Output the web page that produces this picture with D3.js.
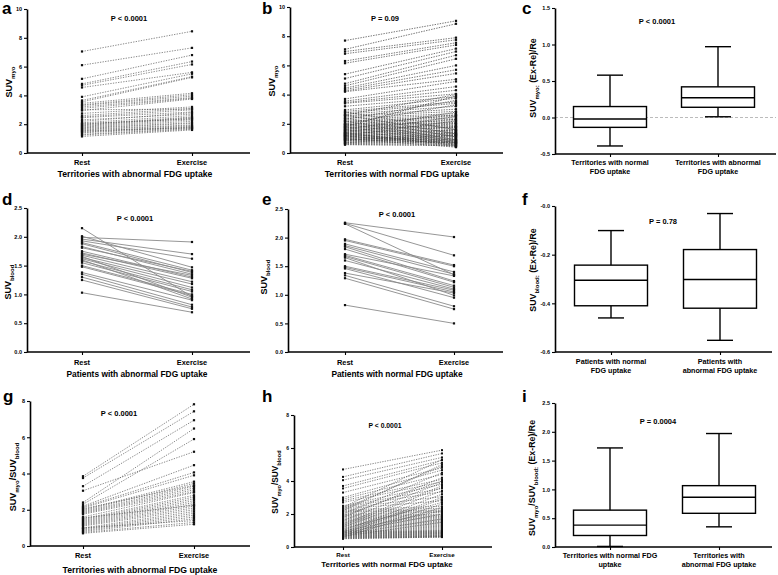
<!DOCTYPE html>
<html><head><meta charset="utf-8">
<script src="https://cdn.jsdelivr.net/npm/d3@7"></script>
<style>
body{margin:0;background:#fff}
svg{display:block}
text{font-family:Arial,"Liberation Sans",sans-serif;font-weight:bold;fill:#000}
</style>
</head><body><script>
// ---------------- DATA ----------------
const timepoints = ["Rest", "Exercise"];

// a: SUVmyo, territories with abnormal FDG uptake
const aRest = [7.05,6.1,5.15,4.8,4.7,4.55,3.9,3.65,3.55,3.45,3.35,3.3,3.2,3.1,2.95,2.75,2.6,2.5,2.45,2.2,2.1,2.0,1.95,1.9,1.85,1.8,1.75,1.7,1.65,1.6,1.5,1.45,1.4,1.3,1.25,1.15,2.3,2.05,3.0,1.55];
const aExercise = [8.45,7.3,6.8,6.35,6.15,5.6,5.5,5.3,5.25,4.15,4.05,3.95,3.85,3.8,3.75,3.2,3.1,3.0,2.85,2.8,2.6,2.5,2.45,2.4,2.3,2.2,2.1,2.05,1.95,1.9,1.85,1.8,1.75,1.7,1.65,1.6,2.7,2.35,3.05,1.75];

// b: SUVmyo, territories with normal FDG uptake
const bRest = [7.7,7.1,6.95,6.8,6.3,6.15,5.4,5.1,4.75,4.6,4.45,4.35,4.25,4.2,3.7,3.55,3.45,3.4,3.2,2.95,2.85,2.75,2.65,2.55,2.5,2.4,2.3,2.2,2.15,2.1,2.0,1.95,1.9,1.85,1.8,1.75,1.7,1.65,1.6,1.55,1.5,1.45,1.4,1.35,1.3,1.25,1.2,1.15,1.1,1.05,1.0,0.95,0.9,0.85,0.8,0.75,0.7,0.65,0.6,0.57,2.8,2.6,2.4,2.2,2.0,1.8,1.6,1.4,1.2,1.0,1.9,1.7,1.5,1.3,1.1,0.9,0.7,1.6,1.4,1.2,2.0,2.3,2.6,1.8,1.25,1.15,1.35,0.85,0.95,1.05];
const bExercise = [9.05,8.85,7.9,7.75,7.55,7.4,7.15,6.95,6.7,6.45,6.0,5.7,5.45,5.05,4.9,4.55,4.3,4.05,3.85,3.75,3.5,3.4,3.2,3.0,2.85,2.7,2.6,2.5,2.4,2.3,2.2,2.1,2.05,2.0,1.9,1.85,1.8,1.75,1.7,1.6,1.55,1.5,1.45,1.4,1.35,1.3,1.25,1.2,1.15,1.1,1.05,1.0,0.95,0.9,0.85,0.8,0.75,0.7,0.6,0.5,1.6,1.3,1.1,0.9,0.8,0.7,0.6,0.5,0.45,0.4,2.6,2.3,2.0,1.8,1.6,1.4,1.2,2.8,2.5,2.2,3.3,3.6,4.0,3.9,0.75,0.65,0.55,1.25,0.7,0.9];

// c: SUVmyo (Ex-Re)/Re box plots
const cCategories = [["Territories with normal","FDG uptake"],["Territories with abnormal","FDG uptake"]];
const cLow = [-0.39, 0.01];
const cQ1 = [-0.135, 0.14];
const cMedian = [-0.02, 0.27];
const cQ3 = [0.15, 0.42];
const cHigh = [0.58, 0.97];

// d: SUVblood, patients with abnormal FDG uptake
const dRest = [2.15,2.01,1.99,1.96,1.93,1.9,1.88,1.83,1.81,1.75,1.72,1.68,1.66,1.64,1.62,1.6,1.58,1.55,1.5,1.48,1.38,1.35,1.3,1.25,1.03,1.7];
const dExercise = [0.96,1.47,1.91,1.7,1.62,1.42,1.38,1.35,1.4,1.3,1.28,1.22,0.95,1.18,1.12,0.92,1.08,1.05,1.0,0.98,0.9,0.82,0.78,0.75,0.69,1.33];

// e: SUVblood, patients with normal FDG uptake
const eRest = [2.26,2.25,2.24,1.97,1.95,1.89,1.86,1.84,1.71,1.69,1.67,1.6,1.5,1.48,1.46,1.38,1.34,1.29,0.82,1.8,1.65];
const eExercise = [2.01,1.69,1.35,1.52,1.5,1.4,1.36,1.24,1.33,1.16,1.13,1.1,1.08,1.05,0.95,1.03,0.8,0.75,0.5,1.22,0.99];

// f: SUVblood (Ex-Re)/Re box plots
const fCategories = [["Patients with normal","FDG uptake"],["Patients with","abnormal FDG uptake"]];
const fLow = [-0.46, -0.552];
const fQ1 = [-0.41, -0.42];
const fMedian = [-0.305, -0.302];
const fQ3 = [-0.243, -0.179];
const fHigh = [-0.101, -0.031];

// g: SUVmyo/SUVblood, territories with abnormal FDG uptake
const gRest = [3.85,3.75,3.3,3.05,2.4,2.3,2.2,2.15,2.1,2.0,1.95,1.9,1.85,1.8,1.75,1.6,1.5,1.45,1.4,1.35,1.3,1.25,1.2,1.15,1.1,1.0,0.95,0.9,0.85,0.8,0.75,0.7,2.05,1.55,1.0];
const gExercise = [7.82,7.43,6.94,5.2,6.48,5.9,4.46,4.06,3.9,3.55,3.45,3.3,3.2,3.1,3.0,2.95,2.8,2.7,2.6,2.5,2.4,2.3,2.2,2.1,2.0,1.9,1.8,1.7,1.6,1.5,1.3,1.2,3.35,2.25,1.4];

// h: SUVmyo/SUVblood, territories with normal FDG uptake
const hRest = [4.7,4.25,4.05,3.7,3.55,3.3,3.0,2.9,2.8,2.7,2.5,2.45,2.4,2.35,2.3,2.25,2.2,2.15,2.1,2.0,1.95,1.9,1.85,1.8,1.75,1.7,1.65,1.6,1.55,1.5,1.45,1.4,1.35,1.3,1.25,1.2,1.15,1.1,1.05,1.0,0.97,0.95,0.92,0.9,0.88,0.85,0.82,0.8,0.78,0.75,0.72,0.7,0.68,0.65,0.62,0.6,0.58,0.55,0.52,0.5,2.4,2.2,2.0,1.8,1.6,1.4,1.2,1.0,0.9,0.8,0.7,0.6,1.3,1.1,0.95,0.85,0.75,0.65,2.3,1.9];
const hExercise = [5.87,5.67,5.43,5.26,5.1,4.8,4.66,4.4,4.1,3.95,3.8,3.55,3.35,3.05,2.8,2.47,2.35,2.25,2.2,2.15,2.1,2.0,1.95,1.9,1.85,1.8,1.75,1.7,1.65,1.6,1.55,1.5,1.45,1.4,1.35,1.3,1.25,1.2,1.15,1.1,1.05,1.0,0.98,0.95,0.92,0.9,0.88,0.85,0.82,0.8,0.78,0.75,0.72,0.7,0.68,0.65,0.63,0.62,0.61,0.6,5.3,5.0,4.5,4.2,3.9,3.7,3.4,3.2,3.0,2.9,2.6,2.4,3.6,2.7,2.2,2.0,1.7,1.5,4.9,4.0];

// i: SUVmyo/SUVblood (Ex-Re)/Re box plots
const iCategories = [["Territories with normal FDG","uptake"],["Territories with","abnormal FDG uptake"]];
const iLow = [0.01, 0.35];
const iQ1 = [0.2, 0.585];
const iMedian = [0.38, 0.865];
const iQ3 = [0.64, 1.065];
const iHigh = [1.72, 1.97];

// tick values and labels
const ticks0to10 = [0,2,4,6,8,10];
const ticks0to10Labels = ["0","2","4","6","8","10"];
const ticks0to8 = [0,2,4,6,8];
const ticks0to8Labels = ["0","2","4","6","8"];
const ticksBlood = [0,0.5,1,1.5,2,2.5];
const ticksBloodLabels = ["0.0","0.5","1.0","1.5","2.0","2.5"];
const cTicks = [-0.5,0,0.5,1,1.5];
const cTickLabels = ["-0.5","0.0","0.5","1.0","1.5"];
const fTicks = [-0.6,-0.4,-0.2,0];
const fTickLabels = ["-0.6","-0.4","-0.2","-0.0"];
const iTicks = [0,0.5,1,1.5,2,2.5];
const iTickLabels = ["0.0","0.5","1.0","1.5","2.0","2.5"];

// ---------------- DRAWING ----------------
const svg = d3.select("body").append("svg").attr("width",778).attr("height",575);

function label(txt, x, y){
  svg.append("text").attr("x",x).attr("y",y).text(txt).style("font-size","17px");
}
function ptext(txt, x, y, fs){
  svg.append("text").attr("x",x).attr("y",y).attr("text-anchor","middle").text(txt).style("font-size",(fs||7.5)+"px");
}
function yTitle(x, y, parts, fs){
  const t = svg.append("text").attr("transform",`translate(${x},${y}) rotate(-90)`)
    .attr("text-anchor","middle").style("font-size",fs+"px");
  let shift = 0;
  parts.forEach(p=>{
    const s = t.append("tspan").text(p[0]);
    const target = p[1] ? fs*0.32 : 0;
    if (target !== shift) { s.attr("dy", target - shift); shift = target; }
    s.style("font-size", (p[1] ? fs*0.68 : fs) + "px");
  });
}
function yAxis(y, x0, ticks, labels, fs){
  const ax = svg.append("g").attr("transform",`translate(${x0},0)`)
    .call(d3.axisLeft(y).tickValues(ticks).tickFormat((d,i)=>labels[i]).tickSize(3).tickSizeOuter(0).tickPadding(2));
  ax.select(".domain").attr("stroke","#000").attr("stroke-width",1.6);
  ax.selectAll(".tick line").attr("stroke-width",1.1);
  ax.selectAll(".tick text").style("font-size",fs+"px");
}
function xAxis(x, yb, x0, x1){
  const ax = svg.append("g").attr("transform",`translate(0,${yb})`)
    .call(d3.axisBottom(x).tickSize(3).tickSizeOuter(0).tickFormat(""));
  ax.select(".domain").attr("d",`M${x0},0H${x1}`).attr("stroke","#000").attr("stroke-width",1.6);
  ax.selectAll(".tick line").attr("stroke-width",1.1);
}

function paired(o){
  const g = svg.append("g");
  const y = d3.scaleLinear().domain(o.domain).range([o.yb,o.yt]);
  const x = d3.scalePoint().domain(timepoints).range([o.xr,o.xe]);
  const pairs = o.rest.map((r,i)=>[r,o.ex[i]]);
  g.selectAll("line.pair").data(pairs).join("line").attr("class","pair")
    .attr("x1",x("Rest")).attr("x2",x("Exercise"))
    .attr("y1",d=>y(d[0])).attr("y2",d=>y(d[1]))
    .attr("stroke",o.color).attr("stroke-width",o.sw)
    .attr("stroke-dasharray",o.dash||null);
  const m = o.ms || 2.2;
  g.selectAll("rect.r").data(o.rest).join("rect").attr("class","r")
    .attr("x",x("Rest")-m/2).attr("y",d=>y(d)-m/2).attr("width",m).attr("height",m).attr("fill","#111");
  g.selectAll("rect.e").data(o.ex).join("rect").attr("class","e")
    .attr("x",x("Exercise")-m/2).attr("y",d=>y(d)-m/2).attr("width",m).attr("height",m).attr("fill","#111");
  yAxis(y, o.xa, o.ticks, o.tickLabels, o.tfs||5.5);
  xAxis(x, o.yb, o.xa, o.xend);
  svg.selectAll(null).data(timepoints).join("text")
    .attr("x",d=>x(d)).attr("y",o.yb+o.tly).attr("text-anchor","middle")
    .style("font-size",(o.cfs||7.4)+"px").text(d=>d);
  svg.append("text").attr("x",o.titleX).attr("y",o.yb+o.tty).attr("text-anchor","middle")
    .style("font-size",(o.titfs||8.7)+"px").text(o.title);
}

function boxes(o){
  const g = svg.append("g");
  const y = d3.scaleLinear().domain(o.domain).range([o.yb,o.yt]);
  const keys = o.cats.map(c=>c.join(" "));
  const x = d3.scalePoint().domain(keys).range([o.c1,o.c2]);
  if (o.zero) {
    g.append("line").attr("x1",o.xa).attr("x2",o.xend).attr("y1",y(0)).attr("y2",y(0))
      .attr("stroke","#aaa").attr("stroke-width",0.8).attr("stroke-dasharray","3,2");
  }
  const bw = o.bw, cw = 26;
  keys.forEach((k,i)=>{
    const cx = x(k);
    g.append("line").attr("x1",cx).attr("x2",cx).attr("y1",y(o.low[i])).attr("y2",y(o.high[i])).attr("stroke","#000").attr("stroke-width",1.4);
    [o.low[i],o.high[i]].forEach(v=>{
      g.append("line").attr("x1",cx-cw/2).attr("x2",cx+cw/2).attr("y1",y(v)).attr("y2",y(v)).attr("stroke","#000").attr("stroke-width",1.4);
    });
    g.append("rect").attr("x",cx-bw/2).attr("width",bw).attr("y",y(o.q3[i])).attr("height",y(o.q1[i])-y(o.q3[i]))
      .attr("fill","#fff").attr("stroke","#000").attr("stroke-width",1.4);
    g.append("line").attr("x1",cx-bw/2).attr("x2",cx+bw/2).attr("y1",y(o.med[i])).attr("y2",y(o.med[i])).attr("stroke","#000").attr("stroke-width",1.4);
    o.cats[i].forEach((line,j)=>{
      svg.append("text").attr("x",cx).attr("y",o.l1+j*o.lh).attr("text-anchor","middle").style("font-size",(o.cfs||7.2)+"px").text(line);
    });
  });
  yAxis(y, o.xa, o.ticks, o.tickLabels, 5.5);
  xAxis(x, o.yb, o.xa, o.xend);
}

// ---- panel a ----
paired({rest:aRest, ex:aExercise, domain:[0,10], yt:9, yb:153, xa:27, xend:250, xr:82, xe:192,
  ticks:ticks0to10, tickLabels:ticks0to10Labels, color:"#555", sw:0.7, dash:"1.3,1.3",
  tly:12, tty:24, titleX:135, title:"Territories with abnormal FDG uptake"});
label("a", 2, 14);
ptext("P < 0.0001", 129, 21);
yTitle(12, 82, [["SUV"],["myo",1]], 9);

// ---- panel b ----
paired({rest:bRest, ex:bExercise, domain:[0,10], yt:7, yb:153, xa:290, xend:503, xr:345, xe:456,
  ticks:ticks0to10, tickLabels:ticks0to10Labels, color:"#444", sw:0.75, dash:"1.4,1.2",
  tly:12, tty:24, titleX:397, title:"Territories with normal FDG uptake"});
label("b", 262, 14);
ptext("P = 0.09", 385, 21);
yTitle(275, 81, [["SUV"],["myo",1]], 9);

// ---- panel c ----
boxes({cats:cCategories, low:cLow, q1:cQ1, med:cMedian, q3:cQ3, high:cHigh,
  domain:[-0.5,1.5], yt:8, yb:154, xa:555, xend:776, c1:610, c2:718, bw:73, zero:true,
  ticks:cTicks, tickLabels:cTickLabels, l1:165, lh:8.5});
label("c", 522, 14);
ptext("P < 0.0001", 657, 24);
yTitle(536, 78, [["SUV"],["myo:",1],[" (Ex-Re)/Re"]], 8.8);

// ---- panel d ----
paired({rest:dRest, ex:dExercise, domain:[0,2.5], yt:208, yb:352, xa:27, xend:250, xr:82, xe:192,
  ticks:ticksBlood, tickLabels:ticksBloodLabels, color:"#8a8a8a", sw:0.9,
  tly:13, tty:25, titleX:137, title:"Patients with abnormal FDG uptake", titfs:8.4});
label("d", 2, 205);
ptext("P < 0.0001", 135, 221);
yTitle(11, 282, [["SUV"],["blood",1]], 9);

// ---- panel e ----
paired({rest:eRest, ex:eExercise, domain:[0,2.5], yt:209, yb:352, xa:288, xend:503, xr:345, xe:454,
  ticks:ticksBlood, tickLabels:ticksBloodLabels, color:"#8a8a8a", sw:0.9,
  tly:13, tty:25, titleX:397, title:"Patients with normal FDG uptake", titfs:8.4});
label("e", 262, 205);
ptext("P < 0.0001", 397, 217);
yTitle(267, 277, [["SUV"],["blood",1]], 9);

// ---- panel f ----
boxes({cats:fCategories, low:fLow, q1:fQ1, med:fMedian, q3:fQ3, high:fHigh,
  domain:[-0.6,0], yt:206, yb:352, xa:555, xend:772, c1:611, c2:720, bw:73,
  ticks:fTicks, tickLabels:fTickLabels, l1:364, lh:9});
label("f", 522, 205);
ptext("P = 0.78", 663, 224);
yTitle(536, 270, [["SUV"],["blood:",1],[" (Ex-Re)/Re"]], 8.8);

// ---- panel g ----
paired({rest:gRest, ex:gExercise, domain:[0,8], yt:401, yb:546, xa:30, xend:250, xr:83, xe:194,
  ticks:ticks0to8, tickLabels:ticks0to8Labels, color:"#555", sw:0.7, dash:"1.3,1.3",
  tly:12, tty:27, titleX:140, title:"Territories with abnormal FDG uptake"});
label("g", 3, 402);
ptext("P < 0.0001", 119, 416);
yTitle(16, 477, [["SUV"],["myo",1],["/SUV"],["blood",1]], 9);

// ---- panel h ----
paired({rest:hRest, ex:hExercise, domain:[0,8], yt:415, yb:547, xa:294, xend:492, xr:343, xe:442,
  ticks:ticks0to8, tickLabels:ticks0to8Labels, color:"#555", sw:0.7, dash:"1.3,1.2", ms:2,
  tly:10, tty:20, titleX:387, title:"Territories with normal FDG uptake", cfs:6.2, titfs:7.9, tfs:5});
label("h", 262, 402);
ptext("P < 0.0001", 385, 428, 6.8);
yTitle(278, 482, [["SUV"],["myo",1],["/SUV"],["blood",1]], 8.3);

// ---- panel i ----
boxes({cats:iCategories, low:iLow, q1:iQ1, med:iMedian, q3:iQ3, high:iHigh,
  domain:[0,2.5], yt:403, yb:547, xa:555, xend:772, c1:610, c2:719, bw:73,
  ticks:iTicks, tickLabels:iTickLabels, l1:558, lh:8.5});
label("i", 522, 402);
ptext("P = 0.0004", 658, 424);
yTitle(535, 478, [["SUV"],["myo",1],["/SUV"],["blood:",1],[" (Ex-Re)/Re"]], 8.8);
</script></body></html>
